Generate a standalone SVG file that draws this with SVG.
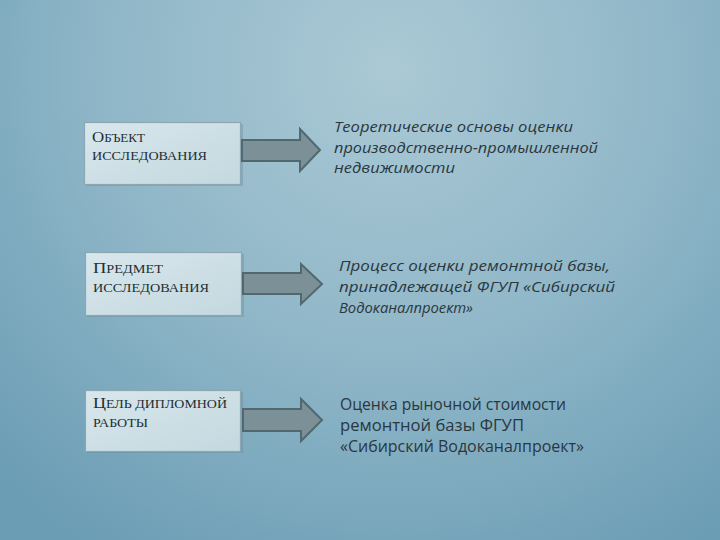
<svg xmlns="http://www.w3.org/2000/svg" width="720" height="540" viewBox="0 0 720 540">
<defs>
<radialGradient id="bg" gradientUnits="userSpaceOnUse" cx="390" cy="70" r="560">
<stop offset="0" stop-color="#abc9d5"/>
<stop offset="0.5" stop-color="#90b7c8"/>
<stop offset="1" stop-color="#6b9db5"/>
</radialGradient>
<linearGradient id="boxg" x1="0" y1="0" x2="1" y2="1">
<stop offset="0" stop-color="#d8e7ec"/>
<stop offset="1" stop-color="#c3d8df"/>
</linearGradient>
<style>
.box{fill:url(#boxg);stroke:#8ca7b1;stroke-width:1.2}
.shadow{fill:#5f8899;opacity:0.35}
.arrow{fill:#7c9097;stroke:#506970;stroke-width:2;stroke-linejoin:miter}
.lbl{font-family:"Liberation Serif",serif;fill:#222e34}
.big{font-size:15.5px}
.sm{font-size:12px}
.it{font-family:"Open Sans","DejaVu Sans",sans-serif;font-style:italic;font-size:15px;fill:#2a373f}
.up{font-family:"Open Sans","DejaVu Sans",sans-serif;font-size:15.5px;fill:#2a373f}
</style>
</defs>
<rect x="0" y="0" width="720" height="540" fill="url(#bg)"/>

<g id="node-object">
<rect class="shadow" x="86" y="124" width="157" height="62"/>
<rect class="box" x="84.5" y="122.5" width="156" height="62"/>
<text class="lbl" x="92" y="142" textLength="53" lengthAdjust="spacingAndGlyphs"><tspan class="big">О</tspan><tspan class="sm">БЪЕКТ</tspan></text>
<text class="lbl sm" x="92" y="160" textLength="115" lengthAdjust="spacingAndGlyphs">ИССЛЕДОВАНИЯ</text>
</g>

<g id="node-subject">
<rect class="shadow" x="87" y="254" width="157" height="63"/>
<rect class="box" x="85.5" y="252.5" width="156" height="63"/>
<text class="lbl" x="93" y="273" textLength="70" lengthAdjust="spacingAndGlyphs"><tspan class="big">П</tspan><tspan class="sm">РЕДМЕТ</tspan></text>
<text class="lbl sm" x="93" y="292" textLength="116" lengthAdjust="spacingAndGlyphs">ИССЛЕДОВАНИЯ</text>
</g>

<g id="node-goal">
<rect class="shadow" x="87" y="392" width="156" height="61"/>
<rect class="box" x="85.5" y="390.5" width="155" height="61"/>
<text class="lbl" x="93" y="408" textLength="134" lengthAdjust="spacingAndGlyphs"><tspan class="big">Ц</tspan><tspan class="sm">ЕЛЬ ДИПЛОМНОЙ</tspan></text>
<text class="lbl sm" x="93" y="427" textLength="55" lengthAdjust="spacingAndGlyphs">РАБОТЫ</text>
</g>

<g id="connectors">
<polygon class="arrow" points="242,140 300,140 300,129 320,150 300,171 300,161 242,161"/>
<polygon class="arrow" points="243,273 301,273 301,264 322,284 301,304 301,294 243,294"/>
<polygon class="arrow" points="243,409 301,409 301,399 322,420 301,441 301,431 243,431"/>
</g>

<g id="node-object-text">
<text class="it" x="334" y="132" textLength="239" lengthAdjust="spacingAndGlyphs">Теоретические основы оценки</text>
<text class="it" x="334" y="153" textLength="264" lengthAdjust="spacingAndGlyphs">производственно-промышленной</text>
<text class="it" x="334" y="173" textLength="121" lengthAdjust="spacingAndGlyphs">недвижимости</text>
</g>

<g id="node-subject-text">
<text class="it" x="339" y="271" textLength="271" lengthAdjust="spacingAndGlyphs">Процесс оценки ремонтной базы,</text>
<text class="it" x="339" y="292" textLength="276" lengthAdjust="spacingAndGlyphs">принадлежащей ФГУП «Сибирский</text>
<text class="it" x="339" y="313" textLength="134" lengthAdjust="spacingAndGlyphs">Водоканалпроект»</text>
</g>

<g id="node-goal-text">
<text class="up" x="340" y="410" textLength="226" lengthAdjust="spacingAndGlyphs">Оценка рыночной стоимости</text>
<text class="up" x="340" y="431" textLength="184" lengthAdjust="spacingAndGlyphs">ремонтной базы ФГУП</text>
<text class="up" x="340" y="452" textLength="244" lengthAdjust="spacingAndGlyphs">«Сибирский Водоканалпроект»</text>
</g>
</svg>
